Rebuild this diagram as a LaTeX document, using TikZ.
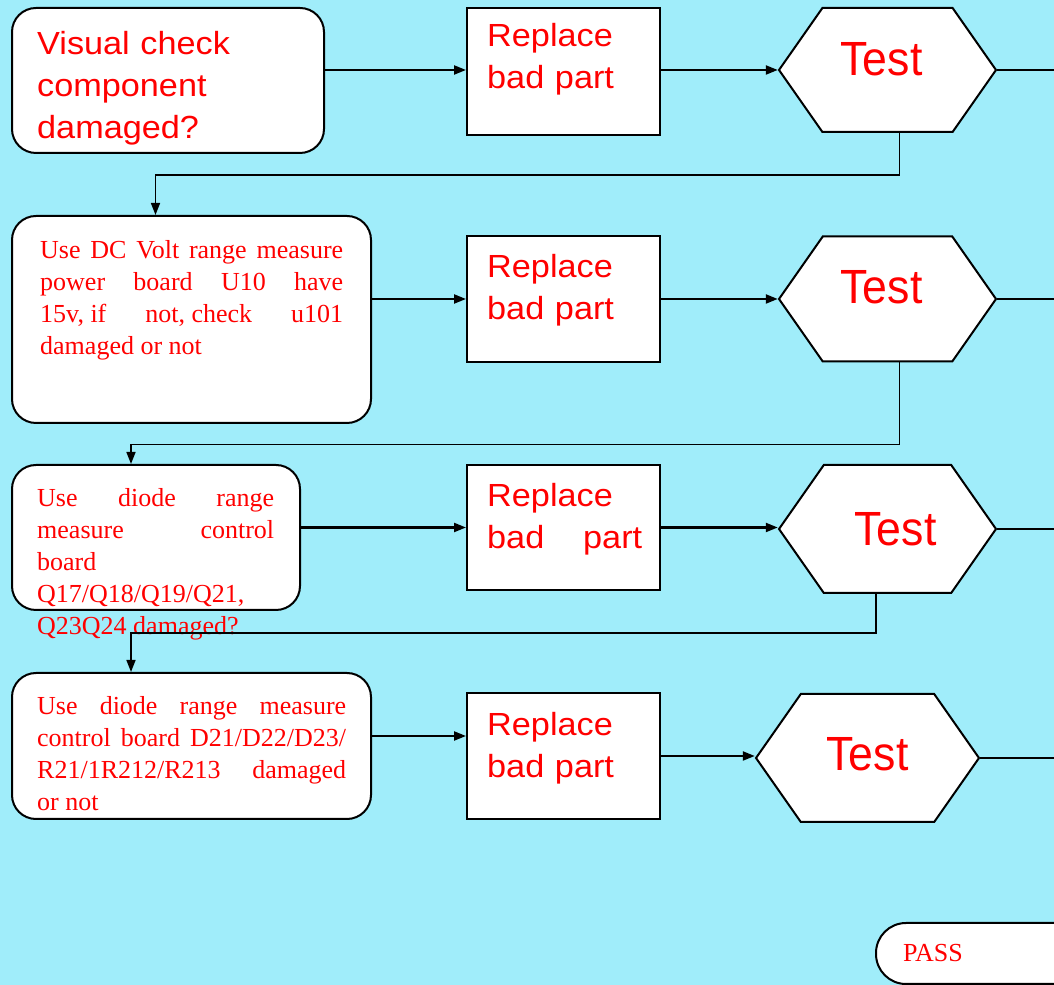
\documentclass[tikz,border=0pt]{standalone}
\usepackage{fontspec}
\setmainfont{Liberation Serif}
\newfontfamily\arialwide[FakeStretch=1.07]{Liberation Sans}
\newfontfamily\arialnarrow[FakeStretch=0.93]{Liberation Sans}
\usetikzlibrary{arrows.meta,shapes.symbols}
\definecolor{slidebg}{RGB}{160,237,250}
\tolerance=10000
\hbadness=10000

\begin{document}
\begin{tikzpicture}[>={Triangle[length=12bp,width=9bp]},
    chk/.style={draw,fill=white,rounded corners=24bp,line width=2bp,inner sep=0pt},
    repl/.style={draw,fill=white,line width=2bp,inner sep=0pt,minimum width=193bp},
    hex/.style={draw,fill=white,line width=2bp,shape=signal,signal to=east and west,
      signal pointer angle=110,inner sep=0pt,text=red,font=\arialnarrow\fontsize{48bp}{48bp}\selectfont},
    sanstxt/.style={anchor=base west,inner sep=0pt,text=red,align=left,
      font=\arialwide\fontsize{32bp}{42bp}\selectfont},
    serftxt/.style={anchor=base west,inner sep=0pt,text=red,align=justify,
      font=\fontsize{26bp}{32bp}\selectfont\frenchspacing},
    link/.style={->,line width=2.2bp},
    down/.style={->,line width=1.6bp}]
  \useasboundingbox (0,0) rectangle (1054bp,985bp);
  \clip (0,0) rectangle (1054bp,985bp);
  \fill [slidebg] (0,0) rectangle (1054bp,985bp);
  \coordinate (edge) at (1054bp,0bp);
  % row 1
  \node (chk1) at (168bp,904.5bp) [chk,minimum width=312bp,minimum height=145bp] {};
  \node (chk1txt) at (37bp,930bp) [sanstxt,text width=262bp] {Visual check\\component\\damaged?};
  \node (rep1) at (563.5bp,913.5bp) [repl,minimum height=127bp] {};
  \node (rep1txt) at (487bp,938bp) [sanstxt,text width=155bp] {Replace\\bad part};
  \node (test1) at (887.5bp,915bp) [hex,minimum width=217bp,minimum height=124bp,text depth=22bp] {Test\hspace*{12bp}};
  % row 2
  \node (chk2) at (191.5bp,665.5bp) [chk,minimum width=359bp,minimum height=207bp] {};
  \node (chk2txt) at (40bp,726bp) [serftxt,text width=303bp] {Use DC Volt range measure\linebreak
    power board U10 have\linebreak 15v, if\hfill not, check\hfill u101\linebreak damaged or not};
  \node (rep2) at (563.5bp,686bp) [repl,minimum height=126bp] {};
  \node (rep2txt) at (487bp,707bp) [sanstxt,text width=155bp] {Replace\\bad part};
  \node (test2) at (887.5bp,686bp) [hex,minimum width=217bp,minimum height=125bp,text depth=24bp] {Test\hspace*{12bp}};
  % row 3
  \node (chk3) at (156bp,447.5bp) [chk,minimum width=288bp,minimum height=145bp] {};
  \node (chk3txt) at (37bp,478bp) [serftxt,text width=237bp] {Use diode range\linebreak
    measure control\linebreak board\newline Q17/Q18/Q19/Q21,\newline Q23Q24 damaged?};
  \node (rep3) at (563.5bp,457.5bp) [repl,minimum height=125bp] {};
  \node (rep3txt) at (487bp,478bp) [sanstxt,text width=155bp] {Replace\\bad\hfill part};
  \node (test3) at (887.5bp,456bp) [hex,minimum width=217bp,minimum height=128bp] {\hspace*{16bp}Test};
  % row 4
  \node (chk4) at (191.5bp,239bp) [chk,minimum width=359bp,minimum height=146bp] {};
  \node (chk4txt) at (37bp,270bp) [serftxt,text width=309bp] {Use diode range measure\linebreak
    control board D21/D22/D23/\linebreak R21/1R212/R213 damaged\linebreak or not};
  \node (rep4) at (563.5bp,229bp) [repl,minimum height=126bp] {};
  \node (rep4txt) at (487bp,249bp) [sanstxt,text width=155bp] {Replace\\bad part};
  \node (test4) at (867.5bp,227bp) [hex,minimum width=223bp,minimum height=128bp,text depth=8bp] {Test};
  \node (pass) at (1006bp,31.5bp) [draw,fill=white,line width=2bp,rounded corners=30bp,
    minimum width=260bp,minimum height=61bp,inner sep=0pt,text width=206bp,align=left,
    text=red,font=\fontsize{26bp}{32bp}\selectfont] {PASS};
  % connectors
  \draw [link] (chk1.east |- test1.west) -- (rep1.west |- test1.west);
  \draw [link] (rep1.east |- test1.west) -- (test1.west);
  \draw [line width=2.2bp] (test1.east) -- (test1.east -| edge);
  \draw [down] ([xshift=12bp]test1.south) -- ++(0,-42bp) -| ([xshift=-36bp]chk2.north);
  \draw [link] (chk2.east |- rep2.west) -- (rep2.west);
  \draw [link] (rep2.east) -- (test2.west);
  \draw [line width=2.2bp] (test2.east) -- (test2.east -| edge);
  \draw [down] ([xshift=12bp]test2.south) -- ++(0,-82bp) -| ([xshift=-25bp]chk3.north);
  \draw [link] (chk3.east |- rep3.west) -- (rep3.west);
  \draw [link] (rep3.east) -- (rep3.east -| test3.west);
  \draw [line width=2.2bp] (test3.east) -- (test3.east -| edge);
  \draw [down] ([xshift=-11.5bp]test3.south) -- ++(0,-39bp) -| ([xshift=-60.5bp]chk4.north);
  \draw [link] ([yshift=10bp]chk4.east) -- ([yshift=10bp]chk4.east -| rep4.west);
  \draw [link] (rep4.east) -- (rep4.east -| test4.west);
  \draw [line width=2.2bp] (test4.east) -- (test4.east -| edge);
\end{tikzpicture}
\end{document}
